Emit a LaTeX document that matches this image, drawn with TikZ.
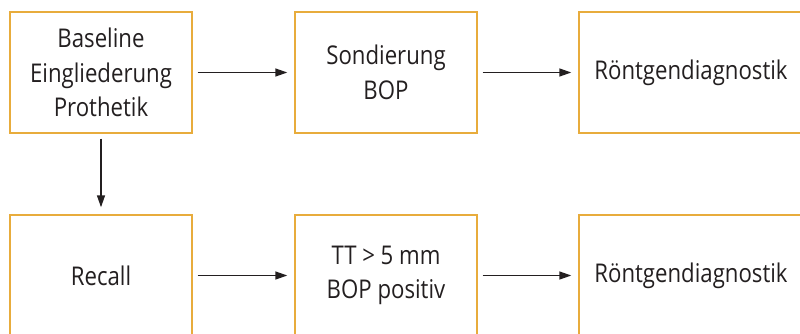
\documentclass[tikz,border=0pt]{standalone}
\usepackage{fontspec}
\setmainfont{Open Sans}[FakeStretch=0.86]
\usetikzlibrary{arrows.meta}
\definecolor{boxc}{HTML}{E8AC3C}
\definecolor{txt}{HTML}{231F20}
\tikzset{
  stepbox/.style={draw=boxc, line width=1.4pt, rectangle, inner sep=0pt, text=txt,
    align=center, font=\fontsize{25.8}{34.5}\selectfont},
  conn/.style={draw=txt, line width=1.4pt, -{Triangle[length=12pt,width=8pt]}, shorten <=5pt, shorten >=7pt}
}
\begin{document}
\begin{tikzpicture}[x=1pt,y=-1pt]
\useasboundingbox (0,0) rectangle (800,334);
\clip (0,0) rectangle (800,334);
\node[stepbox, minimum width=182pt, minimum height=121pt] (a) at (101,72.5) {Baseline\\Eingliederung\\Prothetik};
\node[stepbox, minimum width=182pt, minimum height=121pt] (b) at (386,72.5) {Sondierung\\BOP};
\node[stepbox, minimum width=224pt, minimum height=121pt] (c) at (691,72.5) {Röntgendiagnostik};
\node[stepbox, minimum width=182pt, minimum height=121pt] (d) at (101,275.5) {Recall};
\node[stepbox, minimum width=182pt, minimum height=121pt] (e) at (386,275.5) {TT > 5 mm\\BOP positiv};
\node[stepbox, minimum width=224pt, minimum height=121pt] (f) at (691,275.5) {Röntgendiagnostik};
\draw[conn] (a) -- (b);
\draw[conn] (b) -- (c);
\draw[conn] (a) -- (d);
\draw[conn] (d) -- (e);
\draw[conn] (e) -- (f);
\end{tikzpicture}
\end{document}
